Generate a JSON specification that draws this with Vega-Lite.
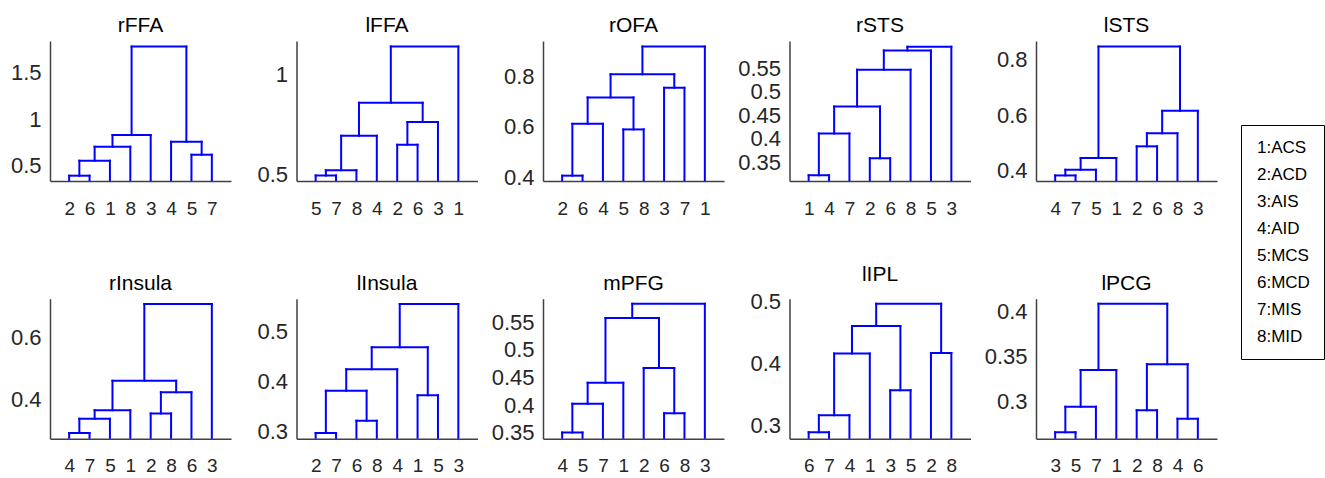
{
  "$schema": "https://vega.github.io/schema/vega-lite/v6.json",
  "autosize": {"type": "pad"},
  "padding": {"left": 10, "top": 15, "right": 0, "bottom": 0},
  "background": "white",
  "config": {
    "view": {"stroke": null},
    "font": "Liberation Sans",
    "title": {"fontSize": 21, "fontWeight": "normal", "color": "#000000", "offset": 5, "frame": "group", "baseline": "alphabetic", "font": "Liberation Sans"},
    "axis": {"grid": false, "ticks": false, "labelFlush": false, "labelOverlap": false, "domainColor": "#404040", "domainWidth": 1.5, "labelColor": "#262626", "labelFont": "Liberation Sans"},
    "axisX": {"labelPadding": 18, "labelFontSize": 19},
    "axisY": {"labelPadding": 9, "labelFontSize": 22},
    "rule": {"color": "#0000ff", "strokeWidth": 2, "strokeCap": "square"}
  },
  "datasets": {
    "segments": [
      {"r": "rFFA", "x": 1, "x2": 2, "y": 0.393, "y2": 0.393}, {"r": "rFFA", "x": 1, "x2": 1, "y": 0, "y2": 0.393}, {"r": "rFFA", "x": 2, "x2": 2, "y": 0, "y2": 0.393},
      {"r": "rFFA", "x": 1.5, "x2": 3, "y": 0.554, "y2": 0.554}, {"r": "rFFA", "x": 1.5, "x2": 1.5, "y": 0.393, "y2": 0.554}, {"r": "rFFA", "x": 3, "x2": 3, "y": 0, "y2": 0.554},
      {"r": "rFFA", "x": 2.25, "x2": 4, "y": 0.704, "y2": 0.704}, {"r": "rFFA", "x": 2.25, "x2": 2.25, "y": 0.554, "y2": 0.704}, {"r": "rFFA", "x": 4, "x2": 4, "y": 0, "y2": 0.704},
      {"r": "rFFA", "x": 3.125, "x2": 5, "y": 0.829, "y2": 0.829}, {"r": "rFFA", "x": 3.125, "x2": 3.125, "y": 0.704, "y2": 0.829}, {"r": "rFFA", "x": 5, "x2": 5, "y": 0, "y2": 0.829},
      {"r": "rFFA", "x": 7, "x2": 8, "y": 0.618, "y2": 0.618}, {"r": "rFFA", "x": 7, "x2": 7, "y": 0, "y2": 0.618}, {"r": "rFFA", "x": 8, "x2": 8, "y": 0, "y2": 0.618},
      {"r": "rFFA", "x": 6, "x2": 7.5, "y": 0.757, "y2": 0.757}, {"r": "rFFA", "x": 6, "x2": 6, "y": 0, "y2": 0.757}, {"r": "rFFA", "x": 7.5, "x2": 7.5, "y": 0.618, "y2": 0.757},
      {"r": "rFFA", "x": 4.0625, "x2": 6.75, "y": 1.779, "y2": 1.779}, {"r": "rFFA", "x": 4.0625, "x2": 4.0625, "y": 0.829, "y2": 1.779}, {"r": "rFFA", "x": 6.75, "x2": 6.75, "y": 0.757, "y2": 1.779},

      {"r": "lFFA", "x": 1, "x2": 2, "y": 0.497, "y2": 0.497}, {"r": "lFFA", "x": 1, "x2": 1, "y": 0, "y2": 0.497}, {"r": "lFFA", "x": 2, "x2": 2, "y": 0, "y2": 0.497},
      {"r": "lFFA", "x": 1.5, "x2": 3, "y": 0.523, "y2": 0.523}, {"r": "lFFA", "x": 1.5, "x2": 1.5, "y": 0.497, "y2": 0.523}, {"r": "lFFA", "x": 3, "x2": 3, "y": 0, "y2": 0.523},
      {"r": "lFFA", "x": 2.25, "x2": 4, "y": 0.694, "y2": 0.694}, {"r": "lFFA", "x": 2.25, "x2": 2.25, "y": 0.523, "y2": 0.694}, {"r": "lFFA", "x": 4, "x2": 4, "y": 0, "y2": 0.694},
      {"r": "lFFA", "x": 5, "x2": 6, "y": 0.649, "y2": 0.649}, {"r": "lFFA", "x": 5, "x2": 5, "y": 0, "y2": 0.649}, {"r": "lFFA", "x": 6, "x2": 6, "y": 0, "y2": 0.649},
      {"r": "lFFA", "x": 5.5, "x2": 7, "y": 0.763, "y2": 0.763}, {"r": "lFFA", "x": 5.5, "x2": 5.5, "y": 0.649, "y2": 0.763}, {"r": "lFFA", "x": 7, "x2": 7, "y": 0, "y2": 0.763},
      {"r": "lFFA", "x": 3.125, "x2": 6.25, "y": 0.858, "y2": 0.858}, {"r": "lFFA", "x": 3.125, "x2": 3.125, "y": 0.694, "y2": 0.858}, {"r": "lFFA", "x": 6.25, "x2": 6.25, "y": 0.763, "y2": 0.858},
      {"r": "lFFA", "x": 4.6875, "x2": 8, "y": 1.139, "y2": 1.139}, {"r": "lFFA", "x": 4.6875, "x2": 4.6875, "y": 0.858, "y2": 1.139}, {"r": "lFFA", "x": 8, "x2": 8, "y": 0, "y2": 1.139},

      {"r": "rOFA", "x": 1, "x2": 2, "y": 0.408, "y2": 0.408}, {"r": "rOFA", "x": 1, "x2": 1, "y": 0, "y2": 0.408}, {"r": "rOFA", "x": 2, "x2": 2, "y": 0, "y2": 0.408},
      {"r": "rOFA", "x": 1.5, "x2": 3, "y": 0.612, "y2": 0.612}, {"r": "rOFA", "x": 1.5, "x2": 1.5, "y": 0.408, "y2": 0.612}, {"r": "rOFA", "x": 3, "x2": 3, "y": 0, "y2": 0.612},
      {"r": "rOFA", "x": 4, "x2": 5, "y": 0.59, "y2": 0.59}, {"r": "rOFA", "x": 4, "x2": 4, "y": 0, "y2": 0.59}, {"r": "rOFA", "x": 5, "x2": 5, "y": 0, "y2": 0.59},
      {"r": "rOFA", "x": 2.25, "x2": 4.5, "y": 0.716, "y2": 0.716}, {"r": "rOFA", "x": 2.25, "x2": 2.25, "y": 0.612, "y2": 0.716}, {"r": "rOFA", "x": 4.5, "x2": 4.5, "y": 0.59, "y2": 0.716},
      {"r": "rOFA", "x": 6, "x2": 7, "y": 0.754, "y2": 0.754}, {"r": "rOFA", "x": 6, "x2": 6, "y": 0, "y2": 0.754}, {"r": "rOFA", "x": 7, "x2": 7, "y": 0, "y2": 0.754},
      {"r": "rOFA", "x": 3.375, "x2": 6.5, "y": 0.807, "y2": 0.807}, {"r": "rOFA", "x": 3.375, "x2": 3.375, "y": 0.716, "y2": 0.807}, {"r": "rOFA", "x": 6.5, "x2": 6.5, "y": 0.754, "y2": 0.807},
      {"r": "rOFA", "x": 4.9375, "x2": 8, "y": 0.916, "y2": 0.916}, {"r": "rOFA", "x": 4.9375, "x2": 4.9375, "y": 0.807, "y2": 0.916}, {"r": "rOFA", "x": 8, "x2": 8, "y": 0, "y2": 0.916},

      {"r": "rSTS", "x": 1, "x2": 2, "y": 0.322, "y2": 0.322}, {"r": "rSTS", "x": 1, "x2": 1, "y": 0, "y2": 0.322}, {"r": "rSTS", "x": 2, "x2": 2, "y": 0, "y2": 0.322},
      {"r": "rSTS", "x": 1.5, "x2": 3, "y": 0.411, "y2": 0.411}, {"r": "rSTS", "x": 1.5, "x2": 1.5, "y": 0.322, "y2": 0.411}, {"r": "rSTS", "x": 3, "x2": 3, "y": 0, "y2": 0.411},
      {"r": "rSTS", "x": 4, "x2": 5, "y": 0.3585, "y2": 0.3585}, {"r": "rSTS", "x": 4, "x2": 4, "y": 0, "y2": 0.3585}, {"r": "rSTS", "x": 5, "x2": 5, "y": 0, "y2": 0.3585},
      {"r": "rSTS", "x": 2.25, "x2": 4.5, "y": 0.4685, "y2": 0.4685}, {"r": "rSTS", "x": 2.25, "x2": 2.25, "y": 0.411, "y2": 0.4685}, {"r": "rSTS", "x": 4.5, "x2": 4.5, "y": 0.3585, "y2": 0.4685},
      {"r": "rSTS", "x": 3.375, "x2": 6, "y": 0.547, "y2": 0.547}, {"r": "rSTS", "x": 3.375, "x2": 3.375, "y": 0.4685, "y2": 0.547}, {"r": "rSTS", "x": 6, "x2": 6, "y": 0, "y2": 0.547},
      {"r": "rSTS", "x": 4.6875, "x2": 7, "y": 0.5877, "y2": 0.5877}, {"r": "rSTS", "x": 4.6875, "x2": 4.6875, "y": 0.547, "y2": 0.5877}, {"r": "rSTS", "x": 7, "x2": 7, "y": 0, "y2": 0.5877},
      {"r": "rSTS", "x": 5.84375, "x2": 8, "y": 0.596, "y2": 0.596}, {"r": "rSTS", "x": 5.84375, "x2": 5.84375, "y": 0.5877, "y2": 0.596}, {"r": "rSTS", "x": 8, "x2": 8, "y": 0, "y2": 0.596},

      {"r": "lSTS", "x": 1, "x2": 2, "y": 0.383, "y2": 0.383}, {"r": "lSTS", "x": 1, "x2": 1, "y": 0, "y2": 0.383}, {"r": "lSTS", "x": 2, "x2": 2, "y": 0, "y2": 0.383},
      {"r": "lSTS", "x": 1.5, "x2": 3, "y": 0.4036, "y2": 0.4036}, {"r": "lSTS", "x": 1.5, "x2": 1.5, "y": 0.383, "y2": 0.4036}, {"r": "lSTS", "x": 3, "x2": 3, "y": 0, "y2": 0.4036},
      {"r": "lSTS", "x": 2.25, "x2": 4, "y": 0.4458, "y2": 0.4458}, {"r": "lSTS", "x": 2.25, "x2": 2.25, "y": 0.4036, "y2": 0.4458}, {"r": "lSTS", "x": 4, "x2": 4, "y": 0, "y2": 0.4458},
      {"r": "lSTS", "x": 5, "x2": 6, "y": 0.488, "y2": 0.488}, {"r": "lSTS", "x": 5, "x2": 5, "y": 0, "y2": 0.488}, {"r": "lSTS", "x": 6, "x2": 6, "y": 0, "y2": 0.488},
      {"r": "lSTS", "x": 5.5, "x2": 7, "y": 0.535, "y2": 0.535}, {"r": "lSTS", "x": 5.5, "x2": 5.5, "y": 0.488, "y2": 0.535}, {"r": "lSTS", "x": 7, "x2": 7, "y": 0, "y2": 0.535},
      {"r": "lSTS", "x": 6.25, "x2": 8, "y": 0.616, "y2": 0.616}, {"r": "lSTS", "x": 6.25, "x2": 6.25, "y": 0.535, "y2": 0.616}, {"r": "lSTS", "x": 8, "x2": 8, "y": 0, "y2": 0.616},
      {"r": "lSTS", "x": 3.125, "x2": 7.125, "y": 0.848, "y2": 0.848}, {"r": "lSTS", "x": 3.125, "x2": 3.125, "y": 0.4458, "y2": 0.848}, {"r": "lSTS", "x": 7.125, "x2": 7.125, "y": 0.616, "y2": 0.848},

      {"r": "rInsula", "x": 1, "x2": 2, "y": 0.293, "y2": 0.293}, {"r": "rInsula", "x": 1, "x2": 1, "y": 0, "y2": 0.293}, {"r": "rInsula", "x": 2, "x2": 2, "y": 0, "y2": 0.293},
      {"r": "rInsula", "x": 1.5, "x2": 3, "y": 0.339, "y2": 0.339}, {"r": "rInsula", "x": 1.5, "x2": 1.5, "y": 0.293, "y2": 0.339}, {"r": "rInsula", "x": 3, "x2": 3, "y": 0, "y2": 0.339},
      {"r": "rInsula", "x": 2.25, "x2": 4, "y": 0.366, "y2": 0.366}, {"r": "rInsula", "x": 2.25, "x2": 2.25, "y": 0.339, "y2": 0.366}, {"r": "rInsula", "x": 4, "x2": 4, "y": 0, "y2": 0.366},
      {"r": "rInsula", "x": 5, "x2": 6, "y": 0.356, "y2": 0.356}, {"r": "rInsula", "x": 5, "x2": 5, "y": 0, "y2": 0.356}, {"r": "rInsula", "x": 6, "x2": 6, "y": 0, "y2": 0.356},
      {"r": "rInsula", "x": 5.5, "x2": 7, "y": 0.424, "y2": 0.424}, {"r": "rInsula", "x": 5.5, "x2": 5.5, "y": 0.356, "y2": 0.424}, {"r": "rInsula", "x": 7, "x2": 7, "y": 0, "y2": 0.424},
      {"r": "rInsula", "x": 3.125, "x2": 6.25, "y": 0.461, "y2": 0.461}, {"r": "rInsula", "x": 3.125, "x2": 3.125, "y": 0.366, "y2": 0.461}, {"r": "rInsula", "x": 6.25, "x2": 6.25, "y": 0.424, "y2": 0.461},
      {"r": "rInsula", "x": 4.6875, "x2": 8, "y": 0.707, "y2": 0.707}, {"r": "rInsula", "x": 4.6875, "x2": 4.6875, "y": 0.461, "y2": 0.707}, {"r": "rInsula", "x": 8, "x2": 8, "y": 0, "y2": 0.707},

      {"r": "lInsula", "x": 1, "x2": 2, "y": 0.2966, "y2": 0.2966}, {"r": "lInsula", "x": 1, "x2": 1, "y": 0, "y2": 0.2966}, {"r": "lInsula", "x": 2, "x2": 2, "y": 0, "y2": 0.2966},
      {"r": "lInsula", "x": 3, "x2": 4, "y": 0.321, "y2": 0.321}, {"r": "lInsula", "x": 3, "x2": 3, "y": 0, "y2": 0.321}, {"r": "lInsula", "x": 4, "x2": 4, "y": 0, "y2": 0.321},
      {"r": "lInsula", "x": 1.5, "x2": 3.5, "y": 0.381, "y2": 0.381}, {"r": "lInsula", "x": 1.5, "x2": 1.5, "y": 0.2966, "y2": 0.381}, {"r": "lInsula", "x": 3.5, "x2": 3.5, "y": 0.321, "y2": 0.381},
      {"r": "lInsula", "x": 2.5, "x2": 5, "y": 0.424, "y2": 0.424}, {"r": "lInsula", "x": 2.5, "x2": 2.5, "y": 0.381, "y2": 0.424}, {"r": "lInsula", "x": 5, "x2": 5, "y": 0, "y2": 0.424},
      {"r": "lInsula", "x": 6, "x2": 7, "y": 0.372, "y2": 0.372}, {"r": "lInsula", "x": 6, "x2": 6, "y": 0, "y2": 0.372}, {"r": "lInsula", "x": 7, "x2": 7, "y": 0, "y2": 0.372},
      {"r": "lInsula", "x": 3.75, "x2": 6.5, "y": 0.468, "y2": 0.468}, {"r": "lInsula", "x": 3.75, "x2": 3.75, "y": 0.424, "y2": 0.468}, {"r": "lInsula", "x": 6.5, "x2": 6.5, "y": 0.372, "y2": 0.468},
      {"r": "lInsula", "x": 5.125, "x2": 8, "y": 0.5546, "y2": 0.5546}, {"r": "lInsula", "x": 5.125, "x2": 5.125, "y": 0.468, "y2": 0.5546}, {"r": "lInsula", "x": 8, "x2": 8, "y": 0, "y2": 0.5546},

      {"r": "mPFG", "x": 1, "x2": 2, "y": 0.351, "y2": 0.351}, {"r": "mPFG", "x": 1, "x2": 1, "y": 0, "y2": 0.351}, {"r": "mPFG", "x": 2, "x2": 2, "y": 0, "y2": 0.351},
      {"r": "mPFG", "x": 1.5, "x2": 3, "y": 0.4028, "y2": 0.4028}, {"r": "mPFG", "x": 1.5, "x2": 1.5, "y": 0.351, "y2": 0.4028}, {"r": "mPFG", "x": 3, "x2": 3, "y": 0, "y2": 0.4028},
      {"r": "mPFG", "x": 2.25, "x2": 4, "y": 0.4406, "y2": 0.4406}, {"r": "mPFG", "x": 2.25, "x2": 2.25, "y": 0.4028, "y2": 0.4406}, {"r": "mPFG", "x": 4, "x2": 4, "y": 0, "y2": 0.4406},
      {"r": "mPFG", "x": 6, "x2": 7, "y": 0.3855, "y2": 0.3855}, {"r": "mPFG", "x": 6, "x2": 6, "y": 0, "y2": 0.3855}, {"r": "mPFG", "x": 7, "x2": 7, "y": 0, "y2": 0.3855},
      {"r": "mPFG", "x": 5, "x2": 6.5, "y": 0.467, "y2": 0.467}, {"r": "mPFG", "x": 5, "x2": 5, "y": 0, "y2": 0.467}, {"r": "mPFG", "x": 6.5, "x2": 6.5, "y": 0.3855, "y2": 0.467},
      {"r": "mPFG", "x": 3.125, "x2": 5.75, "y": 0.557, "y2": 0.557}, {"r": "mPFG", "x": 3.125, "x2": 3.125, "y": 0.4406, "y2": 0.557}, {"r": "mPFG", "x": 5.75, "x2": 5.75, "y": 0.467, "y2": 0.557},
      {"r": "mPFG", "x": 4.4375, "x2": 8, "y": 0.583, "y2": 0.583}, {"r": "mPFG", "x": 4.4375, "x2": 4.4375, "y": 0.557, "y2": 0.583}, {"r": "mPFG", "x": 8, "x2": 8, "y": 0, "y2": 0.583},

      {"r": "lIPL", "x": 1, "x2": 2, "y": 0.2887, "y2": 0.2887}, {"r": "lIPL", "x": 1, "x2": 1, "y": 0, "y2": 0.2887}, {"r": "lIPL", "x": 2, "x2": 2, "y": 0, "y2": 0.2887},
      {"r": "lIPL", "x": 1.5, "x2": 3, "y": 0.316, "y2": 0.316}, {"r": "lIPL", "x": 1.5, "x2": 1.5, "y": 0.2887, "y2": 0.316}, {"r": "lIPL", "x": 3, "x2": 3, "y": 0, "y2": 0.316},
      {"r": "lIPL", "x": 2.25, "x2": 4, "y": 0.4155, "y2": 0.4155}, {"r": "lIPL", "x": 2.25, "x2": 2.25, "y": 0.316, "y2": 0.4155}, {"r": "lIPL", "x": 4, "x2": 4, "y": 0, "y2": 0.4155},
      {"r": "lIPL", "x": 5, "x2": 6, "y": 0.3565, "y2": 0.3565}, {"r": "lIPL", "x": 5, "x2": 5, "y": 0, "y2": 0.3565}, {"r": "lIPL", "x": 6, "x2": 6, "y": 0, "y2": 0.3565},
      {"r": "lIPL", "x": 3.125, "x2": 5.5, "y": 0.46, "y2": 0.46}, {"r": "lIPL", "x": 3.125, "x2": 3.125, "y": 0.4155, "y2": 0.46}, {"r": "lIPL", "x": 5.5, "x2": 5.5, "y": 0.3565, "y2": 0.46},
      {"r": "lIPL", "x": 7, "x2": 8, "y": 0.4166, "y2": 0.4166}, {"r": "lIPL", "x": 7, "x2": 7, "y": 0, "y2": 0.4166}, {"r": "lIPL", "x": 8, "x2": 8, "y": 0, "y2": 0.4166},
      {"r": "lIPL", "x": 4.3125, "x2": 7.5, "y": 0.496, "y2": 0.496}, {"r": "lIPL", "x": 4.3125, "x2": 4.3125, "y": 0.46, "y2": 0.496}, {"r": "lIPL", "x": 7.5, "x2": 7.5, "y": 0.4166, "y2": 0.496},

      {"r": "lPCG", "x": 1, "x2": 2, "y": 0.2656, "y2": 0.2656}, {"r": "lPCG", "x": 1, "x2": 1, "y": 0, "y2": 0.2656}, {"r": "lPCG", "x": 2, "x2": 2, "y": 0, "y2": 0.2656},
      {"r": "lPCG", "x": 1.5, "x2": 3, "y": 0.294, "y2": 0.294}, {"r": "lPCG", "x": 1.5, "x2": 1.5, "y": 0.2656, "y2": 0.294}, {"r": "lPCG", "x": 3, "x2": 3, "y": 0, "y2": 0.294},
      {"r": "lPCG", "x": 2.25, "x2": 4, "y": 0.3348, "y2": 0.3348}, {"r": "lPCG", "x": 2.25, "x2": 2.25, "y": 0.294, "y2": 0.3348}, {"r": "lPCG", "x": 4, "x2": 4, "y": 0, "y2": 0.3348},
      {"r": "lPCG", "x": 5, "x2": 6, "y": 0.29, "y2": 0.29}, {"r": "lPCG", "x": 5, "x2": 5, "y": 0, "y2": 0.29}, {"r": "lPCG", "x": 6, "x2": 6, "y": 0, "y2": 0.29},
      {"r": "lPCG", "x": 7, "x2": 8, "y": 0.2807, "y2": 0.2807}, {"r": "lPCG", "x": 7, "x2": 7, "y": 0, "y2": 0.2807}, {"r": "lPCG", "x": 8, "x2": 8, "y": 0, "y2": 0.2807},
      {"r": "lPCG", "x": 5.5, "x2": 7.5, "y": 0.3411, "y2": 0.3411}, {"r": "lPCG", "x": 5.5, "x2": 5.5, "y": 0.29, "y2": 0.3411}, {"r": "lPCG", "x": 7.5, "x2": 7.5, "y": 0.2807, "y2": 0.3411},
      {"r": "lPCG", "x": 3.125, "x2": 6.5, "y": 0.4084, "y2": 0.4084}, {"r": "lPCG", "x": 3.125, "x2": 3.125, "y": 0.3348, "y2": 0.4084}, {"r": "lPCG", "x": 6.5, "x2": 6.5, "y": 0.3411, "y2": 0.4084}
    ],
    "codes": [
      {"code": "1:ACS"}, {"code": "2:ACD"}, {"code": "3:AIS"}, {"code": "4:AID"},
      {"code": "5:MCS"}, {"code": "6:MCD"}, {"code": "7:MIS"}, {"code": "8:MID"}
    ]
  },
  "data": {"name": "segments"},
  "bounds": "flush",
  "columns": 5,
  "spacing": {"row": 117.7, "column": 65.5},
  "concat": [
    {
      "title": "rFFA", "width": 181, "height": 140,
      "transform": [{"filter": "datum.r === 'rFFA'"}],
      "mark": {"type": "rule", "clip": true},
      "encoding": {
        "x": {"field": "x", "type": "quantitative", "scale": {"domain": [0.06, 8.94], "nice": false}, "axis": {"title": null, "labelOverlap": false, "values": [1, 2, 3, 4, 5, 6, 7, 8], "labelExpr": "substring('26183457', datum.value - 1, datum.value)"}},
        "x2": {"field": "x2"},
        "y": {"field": "y", "type": "quantitative", "scale": {"domain": [0.336, 1.839], "nice": false}, "axis": {"title": null, "labelOverlap": false, "values": [0.5, 1, 1.5], "format": ".2~g"}},
        "y2": {"field": "y2"}
      }
    },
    {
      "title": "lFFA", "width": 181, "height": 140,
      "transform": [{"filter": "datum.r === 'lFFA'"}],
      "mark": {"type": "rule", "clip": true},
      "encoding": {
        "x": {"field": "x", "type": "quantitative", "scale": {"domain": [0.06, 8.94], "nice": false}, "axis": {"title": null, "labelOverlap": false, "values": [1, 2, 3, 4, 5, 6, 7, 8], "labelExpr": "substring('57842631', datum.value - 1, datum.value)"}},
        "x2": {"field": "x2"},
        "y": {"field": "y", "type": "quantitative", "scale": {"domain": [0.469, 1.166], "nice": false}, "axis": {"title": null, "labelOverlap": false, "values": [0.5, 1], "format": ".2~g"}},
        "y2": {"field": "y2"}
      }
    },
    {
      "title": "rOFA", "width": 181, "height": 140,
      "transform": [{"filter": "datum.r === 'rOFA'"}],
      "mark": {"type": "rule", "clip": true},
      "encoding": {
        "x": {"field": "x", "type": "quantitative", "scale": {"domain": [0.06, 8.94], "nice": false}, "axis": {"title": null, "labelOverlap": false, "values": [1, 2, 3, 4, 5, 6, 7, 8], "labelExpr": "substring('26458371', datum.value - 1, datum.value)"}},
        "x2": {"field": "x2"},
        "y": {"field": "y", "type": "quantitative", "scale": {"domain": [0.387, 0.938], "nice": false}, "axis": {"title": null, "labelOverlap": false, "values": [0.4, 0.6, 0.8], "format": ".2~g"}},
        "y2": {"field": "y2"}
      }
    },
    {
      "title": "rSTS", "width": 181, "height": 140,
      "transform": [{"filter": "datum.r === 'rSTS'"}],
      "mark": {"type": "rule", "clip": true},
      "encoding": {
        "x": {"field": "x", "type": "quantitative", "scale": {"domain": [0.06, 8.94], "nice": false}, "axis": {"title": null, "labelOverlap": false, "values": [1, 2, 3, 4, 5, 6, 7, 8], "labelExpr": "substring('14726853', datum.value - 1, datum.value)"}},
        "x2": {"field": "x2"},
        "y": {"field": "y", "type": "quantitative", "scale": {"domain": [0.31, 0.608], "nice": false}, "axis": {"title": null, "labelOverlap": false, "values": [0.35, 0.4, 0.45, 0.5, 0.55], "format": ".2~g"}},
        "y2": {"field": "y2"}
      }
    },
    {
      "title": "lSTS", "width": 181, "height": 140,
      "layer": [
        {
          "transform": [{"filter": "datum.r === 'lSTS'"}],
          "mark": {"type": "rule", "clip": true},
          "encoding": {
            "x": {"field": "x", "type": "quantitative", "scale": {"domain": [0.06, 8.94], "nice": false}, "axis": {"title": null, "labelOverlap": false, "values": [1, 2, 3, 4, 5, 6, 7, 8], "labelExpr": "substring('47512683', datum.value - 1, datum.value)"}},
            "x2": {"field": "x2"},
            "y": {"field": "y", "type": "quantitative", "scale": {"domain": [0.363, 0.868], "nice": false}, "axis": {"title": null, "labelOverlap": false, "values": [0.4, 0.6, 0.8], "format": ".2~g"}},
            "y2": {"field": "y2"}
          }
        },
        {
          "data": {"name": "codes"},
          "mark": {"type": "point", "opacity": 0},
          "encoding": {
            "shape": {"field": "code", "type": "nominal", "sort": null, "legend": {
              "orient": "none", "legendX": 1191, "legendY": 84, "title": null,
              "strokeColor": "#000000", "padding": 14, "symbolOpacity": 0, "symbolSize": 1, "symbolStrokeWidth": 0,
              "labelFontSize": 17, "labelFont": "Liberation Sans", "labelColor": "#000000", "labelOffset": -15, "rowPadding": 9}}
          }
        }
      ]
    },
    {
      "title": "rInsula", "width": 181, "height": 140,
      "transform": [{"filter": "datum.r === 'rInsula'"}],
      "mark": {"type": "rule", "clip": true},
      "encoding": {
        "x": {"field": "x", "type": "quantitative", "scale": {"domain": [0.06, 8.94], "nice": false}, "axis": {"title": null, "labelOverlap": false, "values": [1, 2, 3, 4, 5, 6, 7, 8], "labelExpr": "substring('47512863', datum.value - 1, datum.value)"}},
        "x2": {"field": "x2"},
        "y": {"field": "y", "type": "quantitative", "scale": {"domain": [0.275, 0.724], "nice": false}, "axis": {"title": null, "labelOverlap": false, "values": [0.4, 0.6], "format": ".2~g"}},
        "y2": {"field": "y2"}
      }
    },
    {
      "title": "lInsula", "width": 181, "height": 140,
      "transform": [{"filter": "datum.r === 'lInsula'"}],
      "mark": {"type": "rule", "clip": true},
      "encoding": {
        "x": {"field": "x", "type": "quantitative", "scale": {"domain": [0.06, 8.94], "nice": false}, "axis": {"title": null, "labelOverlap": false, "values": [1, 2, 3, 4, 5, 6, 7, 8], "labelExpr": "substring('27684153', datum.value - 1, datum.value)"}},
        "x2": {"field": "x2"},
        "y": {"field": "y", "type": "quantitative", "scale": {"domain": [0.285, 0.565], "nice": false}, "axis": {"title": null, "labelOverlap": false, "values": [0.3, 0.4, 0.5], "format": ".2~g"}},
        "y2": {"field": "y2"}
      }
    },
    {
      "title": "mPFG", "width": 181, "height": 140,
      "transform": [{"filter": "datum.r === 'mPFG'"}],
      "mark": {"type": "rule", "clip": true},
      "encoding": {
        "x": {"field": "x", "type": "quantitative", "scale": {"domain": [0.06, 8.94], "nice": false}, "axis": {"title": null, "labelOverlap": false, "values": [1, 2, 3, 4, 5, 6, 7, 8], "labelExpr": "substring('45712683', datum.value - 1, datum.value)"}},
        "x2": {"field": "x2"},
        "y": {"field": "y", "type": "quantitative", "scale": {"domain": [0.3397, 0.592], "nice": false}, "axis": {"title": null, "labelOverlap": false, "values": [0.35, 0.4, 0.45, 0.5, 0.55], "format": ".2~g"}},
        "y2": {"field": "y2"}
      }
    },
    {
      "title": "lIPL", "width": 181, "height": 140,
      "transform": [{"filter": "datum.r === 'lIPL'"}],
      "mark": {"type": "rule", "clip": true},
      "encoding": {
        "x": {"field": "x", "type": "quantitative", "scale": {"domain": [0.06, 8.94], "nice": false}, "axis": {"title": null, "labelOverlap": false, "values": [1, 2, 3, 4, 5, 6, 7, 8], "labelExpr": "substring('67413528', datum.value - 1, datum.value)"}},
        "x2": {"field": "x2"},
        "y": {"field": "y", "type": "quantitative", "scale": {"domain": [0.2784, 0.504], "nice": false}, "axis": {"title": null, "labelOverlap": false, "values": [0.3, 0.4, 0.5], "format": ".2~g"}},
        "y2": {"field": "y2"}
      }
    },
    {
      "title": "lPCG", "width": 181, "height": 140,
      "transform": [{"filter": "datum.r === 'lPCG'"}],
      "mark": {"type": "rule", "clip": true},
      "encoding": {
        "x": {"field": "x", "type": "quantitative", "scale": {"domain": [0.06, 8.94], "nice": false}, "axis": {"title": null, "labelOverlap": false, "values": [1, 2, 3, 4, 5, 6, 7, 8], "labelExpr": "substring('35712846', datum.value - 1, datum.value)"}},
        "x2": {"field": "x2"},
        "y": {"field": "y", "type": "quantitative", "scale": {"domain": [0.2584, 0.414], "nice": false}, "axis": {"title": null, "labelOverlap": false, "values": [0.3, 0.35, 0.4], "format": ".2~g"}},
        "y2": {"field": "y2"}
      }
    }
  ]
}
